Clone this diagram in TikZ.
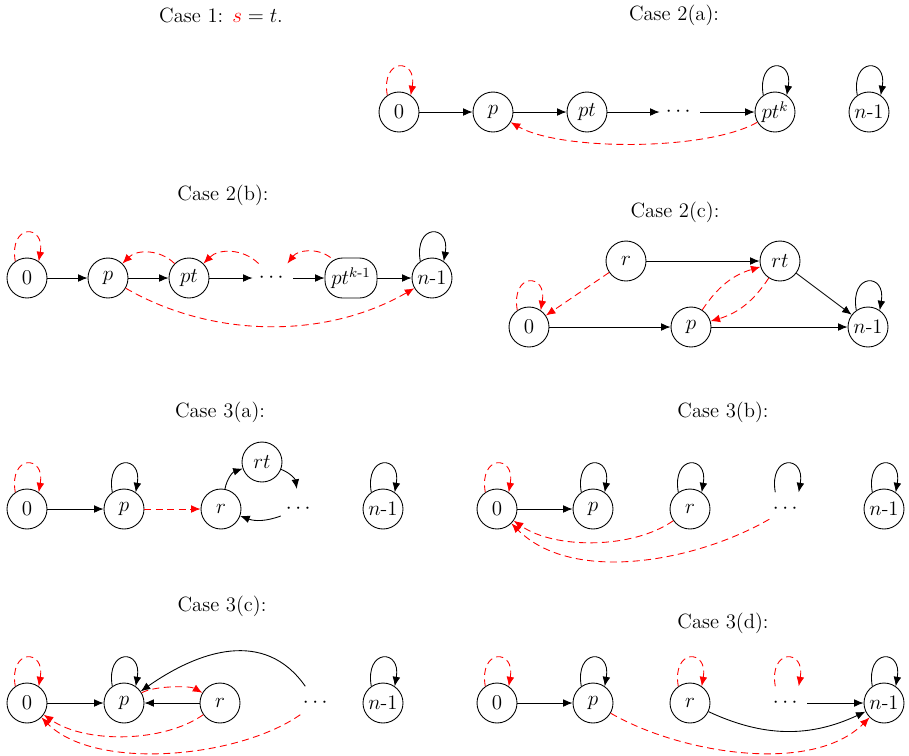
\documentclass[tikz,border=0pt]{standalone}
\usepackage{amsmath}
\usepackage{tikz}
\usetikzlibrary{graphs,arrows.meta}

\begin{document}
\begin{tikzpicture}[x=0.02cm,y=-0.02cm,line width=0.5pt,
  font=\fontsize{11.75}{14}\selectfont,
  >={Latex[length=1.9mm,width=1.55mm]},
  st/.style={circle,draw,minimum size=0.8cm,inner sep=0pt},
  gap/.style={circle,minimum size=0.8cm,inner sep=0pt},
  lp/.style={out=100,in=80,looseness=4.2},
  back/.style={red,dash pattern=on 4pt off 2.5pt}]
\useasboundingbox (0,0) rectangle (909,755);

% Case 1
\node (ti) at (221,15) {Case 1: $\textcolor{red}{s}=t$.};

% Case 2(a)
\node (ta) at (674,15) {Case 2(a):};
\node[st] (a0) at (399,112) {$0$};
\node[st] (ap) at (493,112) {$p$};
\node[st] (apt) at (587,112) {$pt$};
\node[gap] (ad) at (680,112) {$\cdots$};
\node[st] (apk) at (775,112) {$pt^k$};
\node[st] (an) at (869,112) {$n$-1};
\graph[use existing nodes]{ a0 -> ap -> apt -> ad -> apk };
\draw[->,back] (a0.125) to[lp] (a0.55);
\draw[->] (apk.125) to[lp] (apk.55);
\draw[->] (an.125) to[lp] (an.55);
\draw[->,back] (apk) to[bend left=30,looseness=0.6] (ap);

% Case 2(b)
\node (tb) at (223,195) {Case 2(b):};
\node[st] (b0) at (27,278) {$0$};
\node[st] (bp) at (108,278) {$p$};
\node[st] (bpt) at (189,278) {$pt$};
\node[gap] (bd) at (273,278) {$\cdots$};
\node[draw,rounded corners=0.35cm,minimum height=0.8cm,minimum width=1.04cm,inner sep=1pt] (bpk) at (351,278) {$pt^{k\text{-}1}$};
\node[st] (bn) at (432,278) {$n$-1};
\graph[use existing nodes]{ b0 -> bp -> bpt -> bd -> bpk -> bn };
\draw[->,back] (b0.125) to[lp] (b0.55);
\draw[->] (bn.125) to[lp] (bn.55);
\draw[->,back] (bpt) to[bend right=45] (bp);
\draw[->,back] (bd) to[bend right=45] (bpt);
\draw[->,back] (bpk) to[bend right=45] (bd);
\draw[->,back] (bp) to[bend right=30,looseness=0.9] (bn);

% Case 2(c)
\node (tc) at (675,212) {Case 2(c):};
\node[st] (cr) at (626,261) {$r$};
\node[st] (crt) at (780,261) {$rt$};
\node[st] (c0) at (529,327) {$0$};
\node[st] (cp) at (691,327) {$p$};
\node[st] (cn) at (868,327) {$n$-1};
\graph[use existing nodes]{ cr -> crt -> cn; c0 -> cp -> cn };
\draw[->,back] (c0.125) to[lp] (c0.55);
\draw[->] (cn.125) to[lp] (cn.55);
\draw[->,back] (cr) -- (c0);
\draw[->,back] (cp) to[bend left=20] (crt);
\draw[->,back] (crt) to[bend left=20] (cp);

% Case 3(a)
\node (td) at (220,412) {Case 3(a):};
\node[st] (d0) at (27,509) {$0$};
\node[st] (dp) at (124,509) {$p$};
\node[st] (dr) at (221,509) {$r$};
\node[st] (drt) at (262,462) {$rt$};
\node[gap] (dd) at (300,509) {$\cdots$};
\node[st] (dn) at (383,509) {$n$-1};
\graph[use existing nodes]{ d0 -> dp };
\draw[->,back] (d0.125) to[lp] (d0.55);
\draw[->] (dp.125) to[lp] (dp.55);
\draw[->] (dn.125) to[lp] (dn.55);
\draw[->,back] (dp) -- (dr);
\draw[->] (dr) to[bend left=30] (drt);
\draw[->] (drt) to[bend left=30] (dd);
\draw[->] (dd) to[bend left=20] (dr);

% Case 3(b)
\node (te) at (723,412) {Case 3(b):};
\node[st] (e0) at (497,509) {$0$};
\node[st] (ep) at (593,509) {$p$};
\node[st] (er) at (690,509) {$r$};
\node[gap] (ed) at (787,509) {$\cdots$};
\node[st] (en) at (884,509) {$n$-1};
\graph[use existing nodes]{ e0 -> ep };
\draw[->,back] (e0.125) to[lp] (e0.55);
\draw[->] (ep.125) to[lp] (ep.55);
\draw[->] (er.125) to[lp] (er.55);
\draw[->] (ed.125) to[lp] (ed.55);
\draw[->] (en.125) to[lp] (en.55);
\draw[->,back] (er) to[bend left=35,looseness=0.8] (e0);
\draw[->,back] (ed) to[out=210,in=-45,looseness=0.85] (e0);

% Case 3(c)
\node (tf) at (222,606) {Case 3(c):};
\node[st] (f0) at (27,703) {$0$};
\node[st] (fp) at (124,703) {$p$};
\node[st] (fr) at (220,703) {$r$};
\node[gap] (fd) at (317,703) {$\cdots$};
\node[st] (fn) at (383,703) {$n$-1};
\graph[use existing nodes]{ f0 -> fp; fr -> fp };
\draw[->,back] (f0.125) to[lp] (f0.55);
\draw[->] (fp.125) to[lp] (fp.55);
\draw[->] (fn.125) to[lp] (fn.55);
\draw[->,back] (fp) to[bend left=30,looseness=0.6] (fr);
\draw[->,back] (fr) to[bend left=35,looseness=0.8] (f0);
\draw[->,back] (fd) to[out=215,in=-45,looseness=0.75] (f0);
\draw[->] (fd) to[out=125,in=35,looseness=1.1] (fp);

% Case 3(d)
\node (tg) at (723,623) {Case 3(d):};
\node[st] (g0) at (497,703) {$0$};
\node[st] (gp) at (593,703) {$p$};
\node[st] (gr) at (690,703) {$r$};
\node[gap] (gd) at (787,703) {$\cdots$};
\node[st] (gn) at (884,703) {$n$-1};
\graph[use existing nodes]{ g0 -> gp; gd -> gn };
\draw[->,back] (g0.125) to[lp] (g0.55);
\draw[->,back] (gr.125) to[lp] (gr.55);
\draw[->,back] (gd.125) to[lp] (gd.55);
\draw[->] (gp.125) to[lp] (gp.55);
\draw[->] (gn.125) to[lp] (gn.55);
\draw[->] (gr) to[out=-25,in=205] (gn);
\draw[->,back] (gp) to[out=-30,in=225,looseness=0.8] (gn);
\end{tikzpicture}
\end{document}
